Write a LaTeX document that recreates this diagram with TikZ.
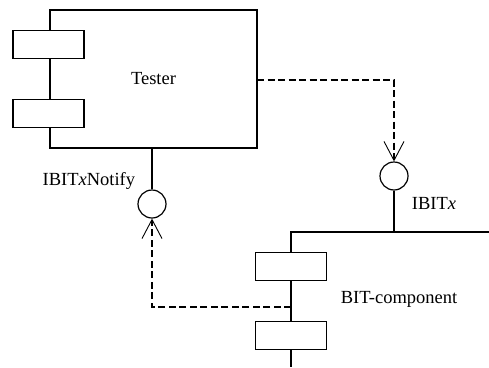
\documentclass[tikz,border=0pt]{standalone}
\usepackage{fontspec}
\setmainfont{Liberation Serif}
\usetikzlibrary{arrows.meta, positioning}

\begin{document}
\begin{tikzpicture}[x=1pt, y=-1pt, line width=1.2pt,
	part/.style={draw, fill=white, minimum width=71pt, minimum height=28pt, inner sep=0pt},
	port/.style={draw, circle, minimum size=28pt, inner sep=0pt},
	dep/.style={dash pattern=on 7pt off 3.5pt, line width=2.4pt,
		-{Straight Barb[length=19pt, width=20pt, line width=0.9pt]}},
	every node/.style={font=\fontsize{18.5}{22}\selectfont}]

	% Page size
	\def\pagewidth{489}
	\def\pageheight{367}
	\useasboundingbox (0,0) rectangle (\pagewidth,\pageheight);

	% Tester
	\node[draw, minimum width=207pt, minimum height=138pt] (tester) at (153.5,79) {Tester};
	\node[part] (tpartA) at (48.5,44.5) {};
	\node[part] (tpartB) at (48.5,113.5) {};

	% BIT-component
	\coordinate (bitcorner) at (291,232);
	\draw (\pagewidth,232) -- (bitcorner) -- (291,\pageheight);
	\node[part] (bpartA) at (291,266.5) {};
	\node[part] (bpartB) at (291,335.5) {};
	\node at (399,299) {BIT-component};

	% Interfaces
	\node[port] (notify) at (152,204) {};
	\draw (tester.south -| notify) -- (notify.north);
	\node[anchor=east] at (139,181) {IBIT\textit{x}Notify};

	\node[port] (ibit) at (394,176) {};
	\draw (ibit.south) -- (ibit.south |- bitcorner);
	\node[anchor=west] at (408,203) {IBIT\textit{x}};

	% Dependencies
	\coordinate (uses) at (257,80);
	\draw[dep] (uses) -| (ibit.north);
	\coordinate (callback) at (291,307);
	\draw[dep] (callback) -| (notify.south);

\end{tikzpicture}
\end{document}
